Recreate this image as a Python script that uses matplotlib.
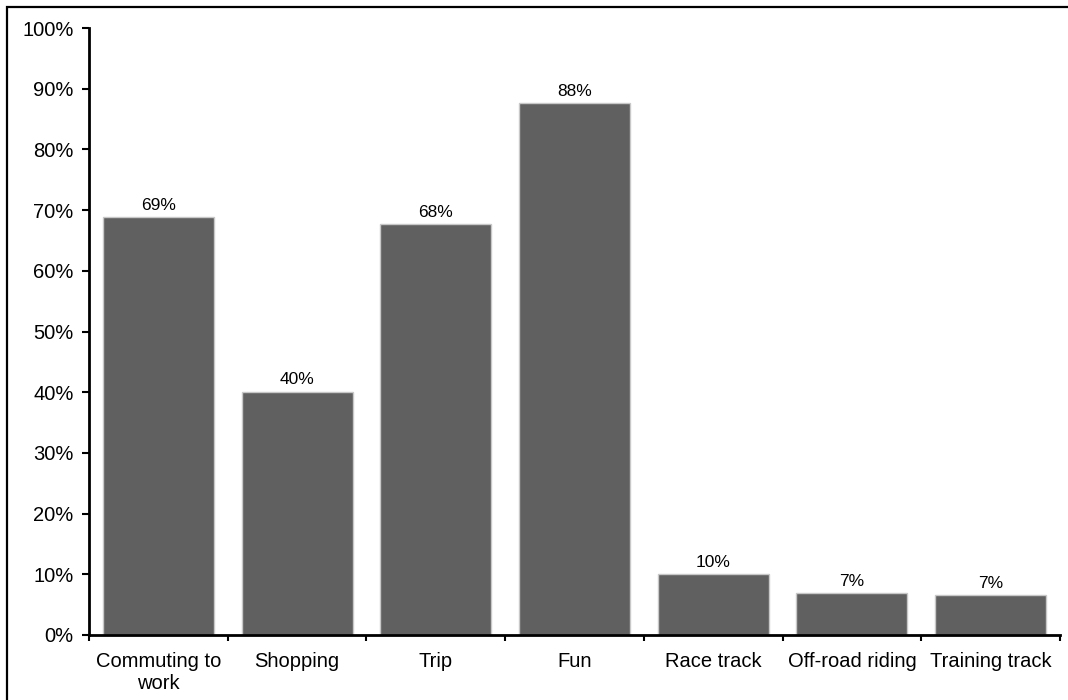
import numpy as np
import matplotlib.pyplot as plt
from matplotlib.patches import Rectangle

plt.rcParams['font.family'] = ['Liberation Sans', 'DejaVu Sans']

categories = ['Commuting to\nwork', 'Shopping', 'Trip', 'Fun',
              'Race track', 'Off-road riding', 'Training track']
values = [68.8, 40.1, 67.7, 87.6, 10.0, 6.9, 6.6]
yticks = [0, 10, 20, 30, 40, 50, 60, 70, 80, 90, 100]

fig = plt.figure(figsize=(10.68, 7.0), dpi=100)
ax = fig.add_axes([89/1068, 1-635/700, (1060-89)/1068, (635-28)/700])

x = np.arange(len(categories))
bars = ax.bar(x, values, width=0.8, color='#606060', edgecolor='#c8c8c8',
              linewidth=1.0)

for xi, v in zip(x, values):
    ax.annotate('{:.0f}%'.format(v), (xi, v), xytext=(0, 3),
                textcoords='offset points', ha='center', va='bottom',
                fontsize=12.5)

ax.set_xlim(-0.5, len(categories) - 0.5)
ax.set_ylim(0, 100)
ax.set_yticks(yticks)
ax.set_yticklabels(['{}%'.format(t) for t in yticks], fontsize=14.5)

ax.set_xticks(x)
ax.set_xticklabels(categories, fontsize=14.5, linespacing=1.2)
ax.set_xticks(np.arange(len(categories) + 1) - 0.5, minor=True)
ax.tick_params(axis='x', which='major', length=0, pad=12)
ax.tick_params(axis='x', which='minor', length=4, width=1.5, direction='out')
ax.tick_params(axis='y', length=5, width=1.5, direction='out', pad=6)

for s in ['top', 'right']:
    ax.spines[s].set_visible(False)
for s in ['left', 'bottom']:
    ax.spines[s].set_linewidth(2)

# outer border (cut off at right and bottom as in the source)
fig.patches.append(Rectangle((7/1068, -0.1), 1.2, 1.1 - 7/700,
                             transform=fig.transFigure, fill=False,
                             edgecolor='black', linewidth=1.6))

fig.savefig('out.png', dpi=100)
